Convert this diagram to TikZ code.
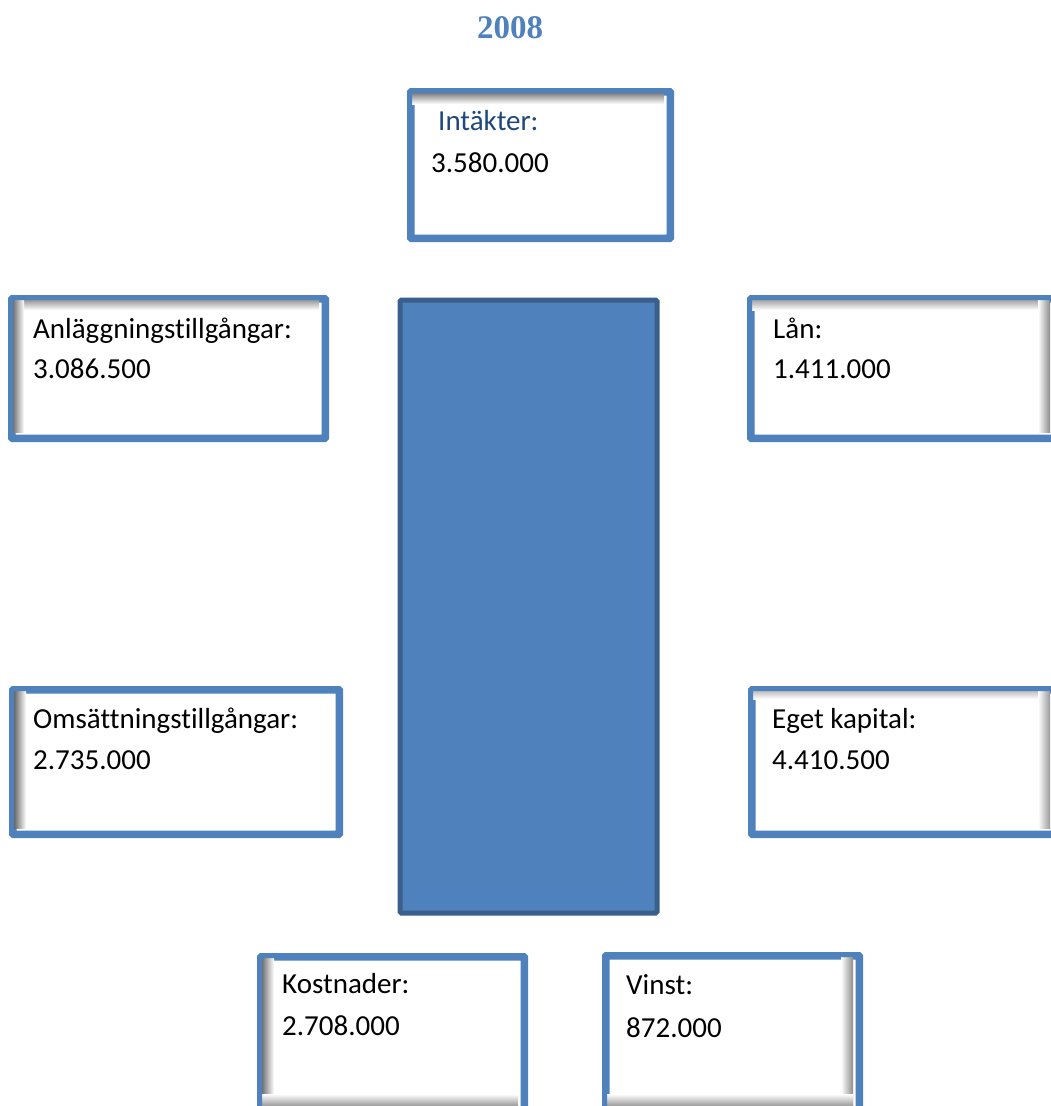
\documentclass[tikz,border=0pt]{standalone}
\usepackage{fontspec}
\setmainfont{Carlito}[Ligatures=NoCommon]
\newfontfamily\titlefont{Liberation Serif}
\definecolor{accent}{HTML}{4F81BD}
\definecolor{accentdark}{HTML}{3A5F8B}
\definecolor{headblue}{HTML}{1F497D}
\begin{document}
\begin{tikzpicture}[x=1pt,y=-1pt,
  box/.style={draw=accent, line width=5pt, rounded corners=1.5pt, fill=white, inner sep=0pt, anchor=north west},
  bar/.style={draw=accentdark, line width=5pt, rounded corners=1.5pt, fill=accent, inner sep=0pt, anchor=north west},
  txt/.style={anchor=base west, inner sep=0pt, font=\fontsize{29}{35}\selectfont, text=black}]
\useasboundingbox (0,0) rectangle (1050,1106);
\fill[white] (0,0) rectangle (1050,1106);

\node[anchor=base, inner sep=0pt, text=accent, font=\titlefont\bfseries\fontsize{33}{40}\selectfont] (title) at (510,38) {2008};

% boxes
\node[box, minimum width=257pt, minimum height=144pt] (intakter) at (409.5,90.5) {};
\node[box, minimum width=311pt, minimum height=137pt] (anl) at (10.5,297.5) {};
\node[box, minimum width=311pt, minimum height=137pt] (lan) at (749.5,297.5) {};
\node[box, minimum width=324pt, minimum height=142pt] (oms) at (11.5,688.5) {};
\node[box, minimum width=311pt, minimum height=142pt] (eget) at (750.5,688.5) {};
\node[box, minimum width=261pt, minimum height=170pt] (kost) at (259.5,955.5) {};
\node[box, minimum width=251pt, minimum height=170pt] (vinst) at (604.5,954.5) {};
\node[bar, minimum width=257pt, minimum height=613pt] (center) at (397.5,297.5) {};

% inner shadows (y grows downwards)
\shade[top color=black!50, bottom color=white] (412,93) rectangle (664,104);
\shade[top color=black!40, bottom color=white] (13,300) rectangle (319,310);
\shade[left color=black!55, right color=white] (13,300) rectangle (24,432);
\shade[top color=black!35, bottom color=white] (752,300) rectangle (1050,310);
\shade[left color=white, right color=black!45] (1038,300) rectangle (1050,432);
\shade[left color=black!60, right color=white] (14,691) rectangle (26,828);
\shade[top color=black!25, bottom color=white] (753,691) rectangle (1050,699);
\shade[left color=white, right color=black!40] (1038,691) rectangle (1050,828);
\shade[left color=black!55, right color=white] (262,958) rectangle (274,1106);
\shade[top color=white, bottom color=black!40] (262,1094) rectangle (518,1106);
\shade[left color=white, right color=black!45] (841,957) rectangle (853,1106);
\shade[top color=white, bottom color=black!40] (607,1094) rectangle (853,1106);

% redraw borders on top of shadows
\foreach \n in {intakter,anl,lan,oms,eget,kost,vinst}
  \draw[accent, line width=5pt, rounded corners=1.5pt] (\n.north west) rectangle (\n.south east);

% texts
\node[txt, text=headblue] (t1a) at (438,130) {Intäkter:};
\node[txt] (t1b) at (431,172) {3.580.000};
\node[txt] (t2a) at (33,338) {Anläggningstillgångar:};
\node[txt] (t2b) at (33,378) {3.086.500};
\node[txt] (t3a) at (773,338) {Lån:};
\node[txt] (t3b) at (773,378) {1.411.000};
\node[txt] (t4a) at (33,728) {Omsättningstillgångar:};
\node[txt] (t4b) at (33,769) {2.735.000};
\node[txt] (t5a) at (772,728) {Eget kapital:};
\node[txt] (t5b) at (772,769) {4.410.500};
\node[txt] (t6a) at (282,993) {Kostnader:};
\node[txt] (t6b) at (282,1035) {2.708.000};
\node[txt] (t7a) at (626,994) {Vinst:};
\node[txt] (t7b) at (626,1037) {872.000};
\end{tikzpicture}
\end{document}
